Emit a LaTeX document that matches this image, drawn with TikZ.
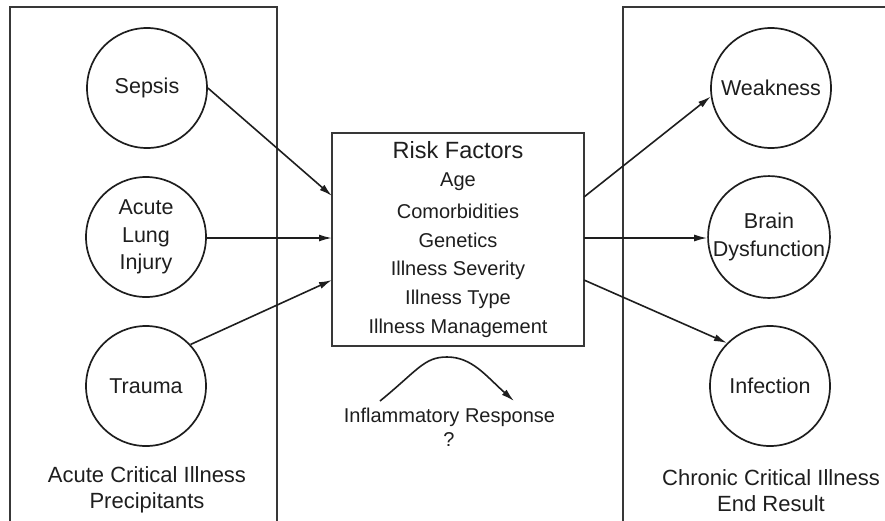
\documentclass[tikz,border=0pt]{standalone}
\usepackage{fontspec}
\setmainfont{Liberation Sans}
\usetikzlibrary{arrows.meta}
\definecolor{ink}{HTML}{1E1E1E}
\definecolor{frame}{HTML}{383838}
\tikzset{
  circ/.style={circle,draw=ink,line width=1.7pt,minimum size=120pt,inner sep=0pt,align=center,text=ink,font=\fontsize{21.5}{27.5}\selectfont},
  framebox/.style={draw=frame,line width=2.2pt},
  conn/.style={draw=ink,line width=1.6pt,-{Latex[length=13pt,width=7pt]}},
  lbl/.style={text=ink,align=center,inner sep=0pt},
  item/.style={lbl,font=\fontsize{20}{24}\selectfont},
}
\begin{document}
\begin{tikzpicture}[x=1pt,y=-1pt]
\useasboundingbox (0,0) rectangle (885,520);
% frames
\draw[framebox] (10,522) -- (10,7) -- (277,7) -- (277,522);
\draw[framebox] (623,522) -- (623,7) -- (887,7);
% left circles
\node[circ] (sepsis) at (147,88) {Sepsis};
\node[circ] (ali) at (146,237) {Acute\\Lung\\Injury};
\node[circ] (trauma) at (146,386) {Trauma};
\node[lbl,font=\fontsize{22}{26}\selectfont] (acl) at (147,490) {Acute Critical Illness\\Precipitants};
% right circles
\node[circ] (weak) at (771,88) {Weakness};
\node[circ] (brain) at (769,237) {Brain\\Dysfunction};
\node[circ] (infect) at (770,386) {Infection};
\node[lbl,font=\fontsize{22}{26}\selectfont] (ccl) at (771,491) {Chronic Critical Illness\\End Result};
% central box
\node[draw=frame,line width=2.2pt,minimum width=252pt,minimum height=213pt,inner sep=0pt] (rf) at (458,239.5) {};
\node[lbl,font=\fontsize{23.5}{28}\selectfont] (rft) at (458,150) {Risk Factors};
\node[item] (i1) at (458,182) {Age};
\node[item] (i2) at (458,211) {Comorbidities};
\node[item] (i3) at (458,240) {Genetics};
\node[item] (i4) at (458,270) {Illness Severity};
\node[item] (i5) at (458,299) {Illness Type};
\node[item] (i6) at (458,328) {Illness Management};
% box side points
\coordinate (rfw1) at (332,196);
\coordinate (rfw2) at (332,238);
\coordinate (rfw3) at (332,280);
\coordinate (rfe1) at (584,197);
\coordinate (rfe2) at (584,238);
\coordinate (rfe3) at (584,280);
% connectors
\draw[conn] (sepsis.east) -- (rfw1);
\draw[conn] (ali.east |- rfw2) -- (rfw2);
\draw[conn] (trauma.43) -- (rfw3);
\draw[conn] (rfe1) -- (weak.188);
\draw[conn] (rfe2) -- (brain.west |- rfe2);
\draw[conn] (rfe3) -- (infect.135);
% inflammatory response
\node[item] (inf) at (449.5,417) {Inflammatory Response};
\node[item] (q) at (449,440) {?};
\coordinate (cs) at (380,401);
\coordinate (ce) at (514,401);
\draw[conn] (cs) .. controls (418,370) and (424,357) .. (447,357) .. controls (472,357) and (486,376) .. (ce);
\end{tikzpicture}
\end{document}
